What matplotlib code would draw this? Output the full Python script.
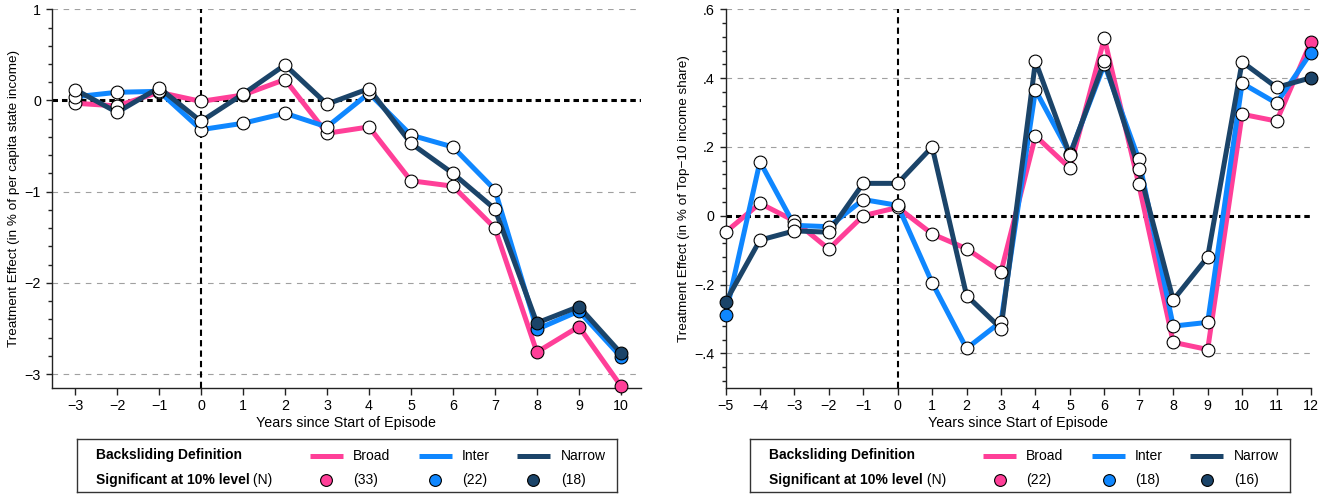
import matplotlib
matplotlib.use("Agg")
import matplotlib.pyplot as plt
from matplotlib.ticker import MultipleLocator, FixedLocator, FuncFormatter

plt.rcParams['font.family'] = ['Liberation Sans', 'DejaVu Sans']

# ---------------- data ----------------
series_names = ["Broad", "Inter", "Narrow"]
series_colors = ["#ff3f98", "#0f87ff", "#1b4469"]

years_left = list(range(-3, 11))
broad_left = [-0.03, -0.06, 0.09, -0.01, 0.06, 0.23, -0.36, -0.29, -0.88, -0.94, -1.40, -2.76, -2.48, -3.13]
inter_left = [0.04, 0.09, 0.10, -0.32, -0.25, -0.14, -0.29, 0.08, -0.38, -0.51, -0.98, -2.51, -2.31, -2.81]
narrow_left = [0.12, -0.13, 0.14, -0.23, 0.07, 0.39, -0.04, 0.13, -0.47, -0.80, -1.19, -2.44, -2.26, -2.77]
sig_broad_left = [0] * 11 + [1, 1, 1]
sig_inter_left = [0] * 11 + [1, 1, 1]
sig_narrow_left = [0] * 11 + [1, 1, 1]
n_left = [33, 22, 18]

years_right = list(range(-5, 13))
broad_right = [-0.048, 0.036, -0.015, -0.097, 0.0, 0.024, -0.053, -0.096, -0.163, 0.232, 0.138, 0.516, 0.091, -0.368, -0.389, 0.295, 0.275, 0.506]
inter_right = [-0.290, 0.157, -0.028, -0.032, 0.047, 0.030, -0.195, -0.386, -0.308, 0.365, 0.179, 0.440, 0.164, -0.321, -0.310, 0.385, 0.327, 0.474]
narrow_right = [-0.251, -0.071, -0.044, -0.048, 0.094, 0.094, 0.200, -0.232, -0.328, 0.449, 0.176, 0.450, 0.136, -0.245, -0.120, 0.447, 0.373, 0.401]
sig_broad_right = [0] * 17 + [1]
sig_inter_right = [1] + [0] * 16 + [1]
sig_narrow_right = [1] + [0] * 16 + [1]
n_right = [22, 18, 16]

left_yticks = [1, 0, -1, -2, -3]
right_yticks = [0.6, 0.4, 0.2, 0.0, -0.2, -0.4]

W, H = 1333, 495
fig = plt.figure(figsize=(W / 100, H / 100), dpi=100)


def px_axes(x0, y0, x1, y1):
    return fig.add_axes([x0 / W, 1 - y1 / H, (x1 - x0) / W, (y1 - y0) / H])


def minus(s):
    return s.replace("-", "\u2212")


def fmt_left(v, pos):
    return minus("%d" % round(v))


def fmt_right(v, pos):
    if abs(v) < 1e-9:
        return "0"
    s = ("%.1f" % v).replace("0.", ".")
    return minus(s)


def draw_panel(ax, years, ys, sigs, xlim, ylim, yticks, minor_step, fmt):
    ax.set_xlim(*xlim)
    ax.set_ylim(*ylim)
    for side in ["top", "right"]:
        ax.spines[side].set_visible(False)
    for side in ["left", "bottom"]:
        ax.spines[side].set_color("#222222")
        ax.spines[side].set_linewidth(1.0)
    # gridlines
    for t in yticks:
        if abs(t) > 1e-9:
            ax.axhline(t, color="#a0a0a0", lw=0.8, ls=(0, (5, 5)), zorder=1)
    ax.axhline(0, color="black", lw=2.2, ls=(0, (1.8, 1.3)), zorder=1.5)
    ax.axvline(0, color="black", lw=1.5, ls=(0, (3, 2)), zorder=1.5)
    # lines
    for y, c in zip(ys, series_colors):
        ax.plot(years, y, color=c, lw=3.6, zorder=3, solid_joinstyle="round",
                clip_on=False)
    # markers
    for y, s, c in zip(ys, sigs, series_colors):
        xw = [x for x, f in zip(years, s) if not f]
        yw = [v for v, f in zip(y, s) if not f]
        xs = [x for x, f in zip(years, s) if f]
        ysg = [v for v, f in zip(y, s) if f]
        ax.plot(xw, yw, ls="none", marker="o", ms=9.2, mfc="white", mec="black",
                mew=0.8, zorder=4, clip_on=False)
        ax.plot(xs, ysg, ls="none", marker="o", ms=9.2, mfc=c, mec="black",
                mew=0.8, zorder=4, clip_on=False)
    ax.set_xticks(years)
    ax.xaxis.set_major_formatter(FuncFormatter(lambda v, p: minus("%d" % round(v))))
    ax.yaxis.set_major_locator(FixedLocator(yticks))
    ax.yaxis.set_minor_locator(MultipleLocator(minor_step))
    ax.yaxis.set_major_formatter(FuncFormatter(fmt))
    ax.tick_params(axis="x", which="major", length=5, width=1, pad=3, labelsize=10.3,
                   color="#222222")
    ax.tick_params(axis="y", which="major", length=4, width=1, pad=4, labelsize=10.3,
                   color="#222222")
    ax.tick_params(axis="y", which="minor", length=3, width=1, color="#222222")
    ax.set_xlabel("Years since Start of Episode", fontsize=10.3, labelpad=2)


ax1 = px_axes(52, 9.3, 641, 387.7)
draw_panel(ax1, years_left, [broad_left, inter_left, narrow_left],
           [sig_broad_left, sig_inter_left, sig_narrow_left],
           (-3.55, 10.48), (-3.15, 1.0), left_yticks, 0.2, fmt_left)
fig.text(14 / W, 1 - 198.5 / H, "Treatment Effect (in % of per capita state income)",
         rotation=90, ha="center", va="center", fontsize=9.7)

ax2 = px_axes(725.5, 9.3, 1311, 387.7)
draw_panel(ax2, years_right, [broad_right, inter_right, narrow_right],
           [sig_broad_right, sig_inter_right, sig_narrow_right],
           (-5, 12), (-0.5, 0.6), right_yticks, 0.04, fmt_right)
fig.text(684 / W, 1 - 198.5 / H, "Treatment Effect (in % of Top\u221210 income share)",
         rotation=90, ha="center", va="center", fontsize=9.7)


def draw_legend(x0, counts):
    bw, bh = 540, 53.3
    lax = px_axes(x0, 439, x0 + bw, 439 + bh)
    lax.set_xlim(0, bw)
    lax.set_ylim(bh, 0)
    lax.set_xticks([])
    lax.set_yticks([])
    for sp in lax.spines.values():
        sp.set_color("#333333")
        sp.set_linewidth(1.0)
    r1, r2 = 16.5, 40.5
    fs = 10
    lax.text(19, r1, "Backsliding Definition", weight="bold", va="center", ha="left",
             fontsize=fs)
    t2 = lax.text(19, r2, "Significant at 10% level", weight="bold", va="center",
                  ha="left", fontsize=fs)
    lax.annotate(" (N)", xy=(1, 0.5), xycoords=t2, va="center", ha="left", fontsize=fs)
    line_x = [(233, 266), (342, 375), (440, 473)]
    text_x = [276, 385, 484]
    for (a, b), tx, name, c, n in zip(line_x, text_x, series_names, series_colors, counts):
        lax.plot([a, b], [r1, r1], color=c, lw=3.6, solid_capstyle="butt")
        lax.plot([(a + b) / 2], [r2], marker="o", ms=8.5, mfc=c, mec="black", mew=0.8)
        lax.text(tx, r1, name, va="center", ha="left", fontsize=fs)
        lax.text(tx, r2, "(%d)" % n, va="center", ha="left", fontsize=fs)


draw_legend(76.7, n_left)
draw_legend(750, n_right)

fig.savefig("out.png", dpi=100)
